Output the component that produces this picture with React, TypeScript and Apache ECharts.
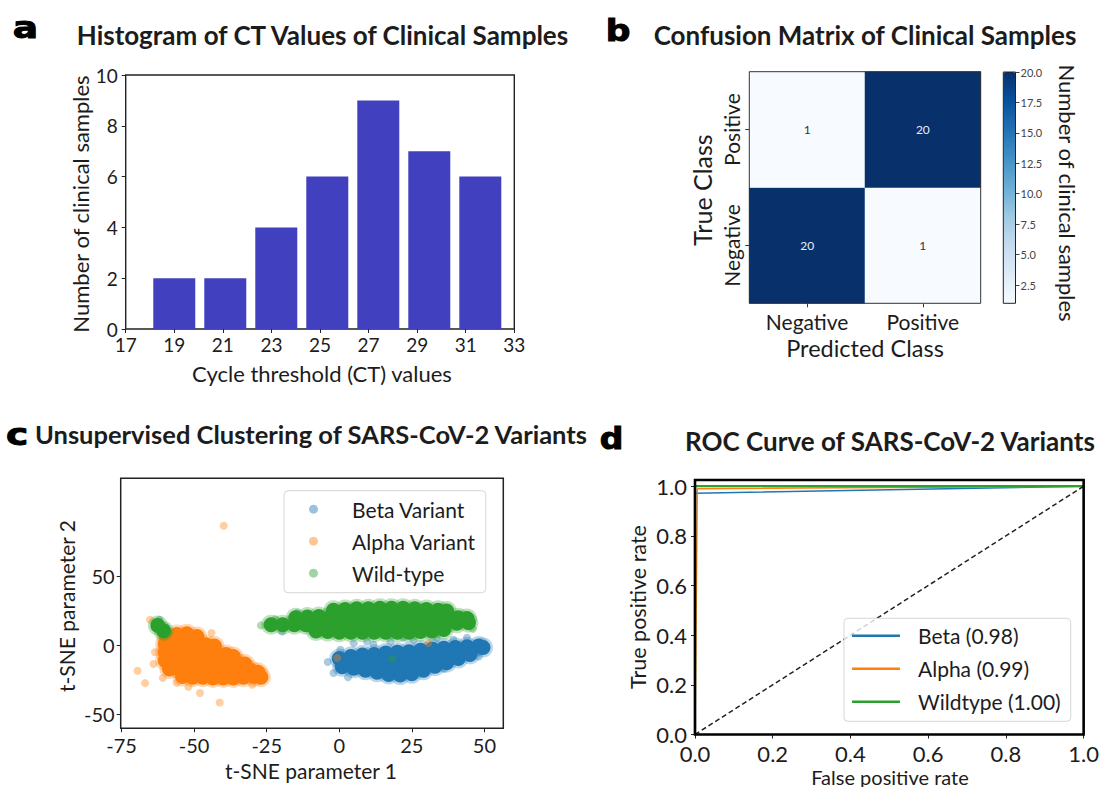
import React, { useEffect, useRef } from 'react';
import * as echarts from 'echarts';

// ---------- Panel a: histogram ----------
const ctBinCenters = [19.0, 21.1, 23.2, 25.3, 27.4, 29.5, 31.6];
const ctCounts = [2, 2, 4, 6, 9, 7, 6];
const ctTicks = [17, 19, 21, 23, 25, 27, 29, 31, 33];

// ---------- Panel b: confusion matrix ----------
const predictedClasses = ['Negative', 'Positive'];
const trueClasses = ['Negative', 'Positive'];
// confusionCounts[trueIndex][predictedIndex]
const confusionCounts = [
  [20, 1],
  [1, 20],
];
const colorbarTicks = [2.5, 5, 7.5, 10, 12.5, 15, 17.5, 20];

// ---------- Panel c: t-SNE clusters ----------
const tsneXTicks = [-75, -50, -25, 0, 25, 50];
const tsneYTicks = [-50, 0, 50];
const betaCore: number[][] = [
  [0, -9.5], [4, -8], [8, -7], [12, -6.5], [16, -5.5], [20, -5], [24, -4.5], [28, -3.5], [32, -2.5], [36, -2], [40, -1.5], [44, -1], [48, -0.5], [49.5, -1.5],
  [3, -13], [7, -13], [11, -13], [15, -13], [19, -13], [23, -12.5], [27, -11], [31, -9], [35, -7.5], [39, -6],
  [1, -15.5], [5, -16.5], [9, -18], [13, -19.5], [17, -21], [21, -21.5], [25, -20.5], [29, -18], [33, -15], [37, -12.5], [41, -9.5], [45, -6.5],
];
const betaSparse: number[][] = [
  [-14.5, 23.5], [-19.7, 10.1], [0.4, -3.1], [9.6, 2.9], [11.8, 0.5], [17.6, 2.9], [25.6, 4.1], [31.3, 7.8], [33.6, 5.4], [39.3, 4.1],
  [22, 5.5], [5, 1.5], [44, 5.5], [-62, 18.6], [-59.5, 13], [-2, -20], [3, -23], [36, -17], [48, -8], [-4, -12],
];
const alphaCore: number[][] = [
  [-59.5, 6], [-56, 8], [-52.5, 8.5], [-49, 6.5],
  [-60, 1], [-56.5, 2], [-53, 2], [-49.5, 1.5], [-46, 0.5], [-43, -0.5],
  [-60, -5], [-56.5, -4.5], [-53, -4.5], [-49.5, -4.5], [-46, -5], [-42.5, -5.5], [-39, -6.5], [-36.5, -8],
  [-60, -11], [-56.5, -11], [-53, -11], [-49.5, -11], [-46, -11], [-42.5, -11], [-39, -11.5], [-35.5, -12], [-32.5, -13.5],
  [-58.5, -17], [-55, -17.5], [-51.5, -17.5], [-48, -17.5], [-44.5, -17.5], [-41, -17.5], [-37.5, -17.5], [-34, -17.5], [-30.5, -18], [-28, -19.5],
  [-54, -22.5], [-50.5, -23], [-47, -23], [-43.5, -23.5], [-40, -23.5], [-36.5, -23.5], [-33, -23], [-29.5, -22.5], [-27, -23],
];
const alphaSparse: number[][] = [
  [-39.8, 86.7], [-69.5, -18.3], [-66.9, -27.3], [-48, -34.5], [-41.2, -41.3], [-60.8, -23.6], [-64, -13.5], [-65.2, 18.6],
  [-60, 12], [-58.5, 10], [-0.7, -9.1], [30.7, 1.7], [-30, -28.5], [-56, -27], [-63.5, -5], [-44, 9], [-52, -30],
];
const wildCore: number[][] = [
  [-2, 25.5], [2, 26], [6, 26.5], [10, 26.5], [14, 27], [18, 27], [22, 27], [26, 26.5], [30, 26], [34, 25.5], [37, 25],
  [-15, 20], [-11, 20.5], [-7, 21], [-3, 21], [1, 21], [5, 21], [9, 21.5], [13, 21.5], [17, 21.5], [21, 21.5], [25, 21], [29, 21], [33, 20.5], [37, 20.5], [41, 20], [44, 19.5],
  [-23.5, 15], [-19.5, 15], [-15.5, 15], [-11.5, 15], [-7.5, 15], [-3.5, 15], [0.5, 15], [4.5, 15], [8.5, 15], [12.5, 15], [16.5, 15], [20.5, 15], [24.5, 15], [28.5, 15], [32.5, 15], [36.5, 15.5], [40.5, 16], [44.5, 16.5],
  [-8, 10.5], [-4, 10], [0, 9.5], [4, 9.5], [8, 9.5], [12, 9.5], [16, 9.5], [20, 9.5], [24, 9.5], [28, 10], [32, 10.5], [36, 11.5],
  [-62.5, 14.5], [-60.5, 10.5],
];
const wildSparse: number[][] = [
  [-63.5, 17], [-61.5, 13], [18.2, -9.6], [-27, 14.5], [-22, 19], [46, 12],
];

// ---------- Panel d: ROC ----------
const rocTicks = [0, 0.2, 0.4, 0.6, 0.8, 1.0];
const betaRoc: number[][] = [[0, 0], [0, 0.972], [1, 1]];
const alphaRoc: number[][] = [[0, 0], [0.006, 0.99], [1, 1]];
const wildRoc: number[][] = [[0, 0], [0, 1], [1, 1]];
const chanceRoc: number[][] = [[0, 0], [1, 1]];

const FONT = 'Lato, "Open Sans", sans-serif';
const LETTER_FONT = '"DejaVu Sans", sans-serif';
const TXT = '#1c1c1c';

function txt(text: string, x: number, y: number, size: number, o: any = {}) {
  return {
    type: 'text',
    x,
    y,
    rotation: o.rot || 0,
    scaleX: o.sx || 1,
    silent: true,
    style: {
      text,
      fontSize: size,
      fontFamily: o.ff || FONT,
      fontWeight: o.fw || 'normal',
      fill: o.fill || TXT,
      stroke: o.stroke,
      lineWidth: o.lw || 0,
      align: 'center',
      verticalAlign: 'middle',
    },
  };
}

function axisBase(gridIndex: number, extra: any) {
  return {
    gridIndex,
    axisLine: { show: false, onZero: false },
    splitLine: { show: false },
    axisTick: { show: true, inside: false, length: 4, lineStyle: { color: '#222', width: 1 } },
    axisLabel: { fontSize: 19, color: TXT, fontFamily: FONT, margin: 6 },
    ...extra,
  };
}

function buildOption(): any {
  const heatData: any[] = [];
  trueClasses.forEach((_, t) => {
    predictedClasses.forEach((__, p) => {
      const v = confusionCounts[t][p];
      heatData.push({ value: [p, t, v], label: { color: v > 10 ? '#e6eef8' : '#333' } });
    });
  });

  const scatterGroups = [
    { name: 'Beta Variant', color: '#1f77b4', core: betaCore, sparse: betaSparse },
    { name: 'Alpha Variant', color: '#ff7f0e', core: alphaCore, sparse: alphaSparse },
    { name: 'Wild-type', color: '#2ca02c', core: wildCore, sparse: wildSparse },
  ];
  const scatterSeries: any[] = [];
  scatterGroups.forEach((g) => {
    // soft halo around the dense cluster
    scatterSeries.push({
      type: 'scatter', name: g.name, xAxisIndex: 3, yAxisIndex: 3, data: g.core,
      symbolSize: 20, itemStyle: { color: g.color, opacity: 0.3 }, silent: true,
    });
    scatterSeries.push({
      type: 'scatter', name: g.name, xAxisIndex: 3, yAxisIndex: 3, data: g.core,
      symbolSize: 15, itemStyle: { color: g.color, opacity: 1 }, silent: true,
    });
    scatterSeries.push({
      type: 'scatter', name: g.name, xAxisIndex: 3, yAxisIndex: 3, data: g.sparse,
      symbolSize: 8, itemStyle: { color: g.color, opacity: 0.38 }, silent: true,
    });
  });

  const rocSeries = [
    { name: 'Beta (0.98)', data: betaRoc, color: '#1f77b4', width: 1.5 },
    { name: 'Alpha (0.99)', data: alphaRoc, color: '#ff7f0e', width: 1.5 },
    { name: 'Wildtype (1.00)', data: wildRoc, color: '#2ca02c', width: 2.2 },
  ].map((s) => ({
    type: 'line', name: s.name, xAxisIndex: 4, yAxisIndex: 4, data: s.data,
    symbol: 'none', showSymbol: false, lineStyle: { color: s.color, width: s.width }, itemStyle: { color: s.color }, silent: true,
  }));

  return {
    animation: false,
    backgroundColor: '#fff',
    grid: [
      { left: 125.7, top: 75, width: 388.6, height: 254, show: true, borderColor: '#222', borderWidth: 1.4, backgroundColor: 'transparent' },
      { left: 749.3, top: 71.7, width: 231.4, height: 231.6, show: true, borderColor: '#333', borderWidth: 1, backgroundColor: 'transparent', z: 5 },
      { left: 1003.3, top: 72, width: 12.2, height: 231.3, show: true, borderColor: '#222', borderWidth: 1, backgroundColor: 'transparent', z: 10 },
      { left: 120.7, top: 478.3, width: 382.6, height: 250, show: true, borderColor: '#222', borderWidth: 1.5, backgroundColor: 'transparent' },
      { left: 695, top: 480, width: 391, height: 254.5, show: true, borderColor: '#000', borderWidth: 2.6, backgroundColor: 'transparent', z: 5 },
    ],
    xAxis: [
      axisBase(0, {
        type: 'value', min: 17, max: 33,
        axisTick: { show: true, length: 4, customValues: ctTicks, lineStyle: { color: '#222' } },
        axisLabel: { customValues: ctTicks, fontSize: 19, color: TXT, fontFamily: FONT, margin: 6 },
      }),
      axisBase(1, {
        type: 'category', data: predictedClasses,
        axisTick: { show: true, alignWithLabel: true, length: 4, lineStyle: { color: '#333' } },
        axisLabel: { fontSize: 21, color: TXT, fontFamily: FONT, margin: 8 },
      }),
      { gridIndex: 2, type: 'value', show: false, min: 0, max: 1 },
      axisBase(3, {
        type: 'value', min: -75.3, max: 56.5,
        axisTick: { show: true, length: 4, customValues: tsneXTicks, lineStyle: { color: '#222' } },
        axisLabel: { customValues: tsneXTicks, fontSize: 20, color: TXT, fontFamily: FONT, margin: 7 },
      }),
      axisBase(4, {
        type: 'value', min: 0, max: 1, interval: 0.2,
        axisTick: { show: true, length: 4, lineStyle: { color: '#222' } },
        axisLabel: { fontSize: 22, color: TXT, fontFamily: FONT, margin: 8, formatter: (v: number) => v.toFixed(1) },
      }),
    ],
    yAxis: [
      axisBase(0, {
        type: 'value', min: 0, max: 10, interval: 2,
        axisLabel: { fontSize: 19, color: TXT, fontFamily: FONT, margin: 8 },
      }),
      axisBase(1, {
        type: 'category', data: trueClasses,
        axisTick: { show: true, alignWithLabel: true, length: 4, lineStyle: { color: '#333' } },
        axisLabel: { fontSize: 21, color: TXT, fontFamily: FONT, margin: 7, rotate: 90 },
      }),
      axisBase(2, {
        type: 'value', min: 1, max: 20, position: 'right',
        axisTick: { show: true, length: 4, customValues: colorbarTicks, lineStyle: { color: '#444' } },
        axisLabel: { customValues: colorbarTicks, fontSize: 11, color: '#444', fontFamily: FONT, margin: 5, formatter: (v: number) => v.toFixed(1) },
      }),
      axisBase(3, {
        type: 'value', min: -60, max: 121,
        axisTick: { show: true, length: 4, customValues: tsneYTicks, lineStyle: { color: '#222' } },
        axisLabel: { customValues: tsneYTicks, fontSize: 20, color: TXT, fontFamily: FONT, margin: 6 },
      }),
      axisBase(4, {
        type: 'value', min: 0, max: 1.025,
        axisTick: { show: true, length: 4, customValues: rocTicks, lineStyle: { color: '#222' } },
        axisLabel: { customValues: rocTicks, fontSize: 22, color: TXT, fontFamily: FONT, margin: 8, formatter: (v: number) => v.toFixed(1) },
      }),
    ],
    visualMap: [
      {
        type: 'continuous', seriesIndex: 1, dimension: 2, min: 1, max: 20,
        inRange: { color: ['#f7fbff', '#deebf7', '#c6dbef', '#9ecae1', '#6baed6', '#4292c6', '#2171b5', '#08519c', '#08306b'] },
        left: 1003.3, top: 72, itemWidth: 12.2, itemHeight: 231.3, padding: 0,
        calculable: false, hoverLink: false, orient: 'vertical',
      },
    ],
    legend: [
      {
        data: ['Beta Variant', 'Alpha Variant', 'Wild-type'],
        orient: 'vertical', left: 284, top: 490.7,
        padding: [8, 10, 9, 25], itemWidth: 9, itemHeight: 9, itemGap: 11, icon: 'circle',
        itemStyle: { opacity: 0.45 },
        textStyle: { fontSize: 21, lineHeight: 21, color: TXT, fontFamily: FONT, padding: [0, 0, 0, 29] },
        backgroundColor: 'rgba(255,255,255,0.8)', borderColor: '#d6d6d6', borderWidth: 1, borderRadius: 4,
        selectedMode: false,
      },
      {
        data: ['Beta (0.98)', 'Alpha (0.99)', 'Wildtype (1.00)'],
        orient: 'vertical', left: 844, top: 618.3,
        padding: [7, 10, 9, 8], itemWidth: 48, itemHeight: 2.5, itemGap: 12, icon: 'rect',
        textStyle: { fontSize: 21, lineHeight: 21, color: TXT, fontFamily: FONT, padding: [0, 0, 0, 13] },
        backgroundColor: 'rgba(255,255,255,0.8)', borderColor: '#d6d6d6', borderWidth: 1, borderRadius: 4,
        selectedMode: false,
      },
    ],
    series: [
      {
        type: 'bar', xAxisIndex: 0, yAxisIndex: 0, barWidth: 42,
        data: ctBinCenters.map((c, i) => [c, ctCounts[i]]),
        itemStyle: { color: '#4141bf' }, silent: true,
      },
      {
        type: 'heatmap', xAxisIndex: 1, yAxisIndex: 1, data: heatData,
        label: { show: true, fontSize: 12, fontFamily: FONT },
        itemStyle: { borderWidth: 0 }, silent: true,
      },
      ...scatterSeries,
      ...rocSeries,
      {
        type: 'line', name: 'chance', xAxisIndex: 4, yAxisIndex: 4, data: chanceRoc,
        symbol: 'none', lineStyle: { color: '#222', width: 1.5, type: [5, 3] }, silent: true,
      },
    ],
    graphic: [
      // panel letters
      txt('a', 25.5, 27, 30, { ff: LETTER_FONT, fw: 'bold', sx: 1.25, fill: '#000', stroke: '#000', lw: 1 }),
      txt('b', 618, 31, 30, { ff: LETTER_FONT, fw: 'bold', sx: 1.15, fill: '#000', stroke: '#000', lw: 1 }),
      txt('c', 17, 434, 30, { ff: LETTER_FONT, fw: 'bold', sx: 1.25, fill: '#000', stroke: '#000', lw: 1 }),
      txt('d', 611.5, 439, 30, { ff: LETTER_FONT, fw: 'bold', sx: 1.1, fill: '#000', stroke: '#000', lw: 1 }),
      // titles
      txt('Histogram of CT Values of Clinical Samples', 322.5, 35, 26, { fw: 'bold' }),
      txt('Confusion Matrix of Clinical Samples', 865, 35, 26, { fw: 'bold' }),
      txt('Unsupervised Clustering of SARS-CoV-2 Variants', 311, 434, 25.5, { fw: 'bold' }),
      txt('ROC Curve of SARS-CoV-2 Variants', 890, 441, 26, { fw: 'bold' }),
      // axis names a
      txt('Cycle threshold (CT) values', 322, 373, 22),
      txt('Number of clinical samples', 80, 204, 22, { rot: Math.PI / 2 }),
      // axis names b
      txt('Predicted Class', 865, 348, 23.5),
      txt('True Class', 702, 190, 25, { rot: Math.PI / 2 }),
      txt('Number of clinical samples', 1067, 193, 22, { rot: -Math.PI / 2 }),
      // axis names c
      txt('t-SNE parameter 1', 311, 770, 21),
      txt('t-SNE parameter 2', 66, 606, 21, { rot: Math.PI / 2 }),
      // axis names d
      txt('False positive rate', 890, 776.5, 20),
      txt('True positive rate', 638, 607, 21.5, { rot: Math.PI / 2 }),
    ],
  };
}

export default function App() {
  const ref = useRef<HTMLDivElement>(null);
  useEffect(() => {
    const chart = echarts.init(ref.current as HTMLDivElement, null, { renderer: 'svg' });
    chart.setOption(buildOption());
    return () => chart.dispose();
  }, []);
  return (
    <div
      ref={ref}
      style={{ position: 'absolute', left: 0, top: 0, width: 1102, height: 787, background: '#fff' }}
    />
  );
}
